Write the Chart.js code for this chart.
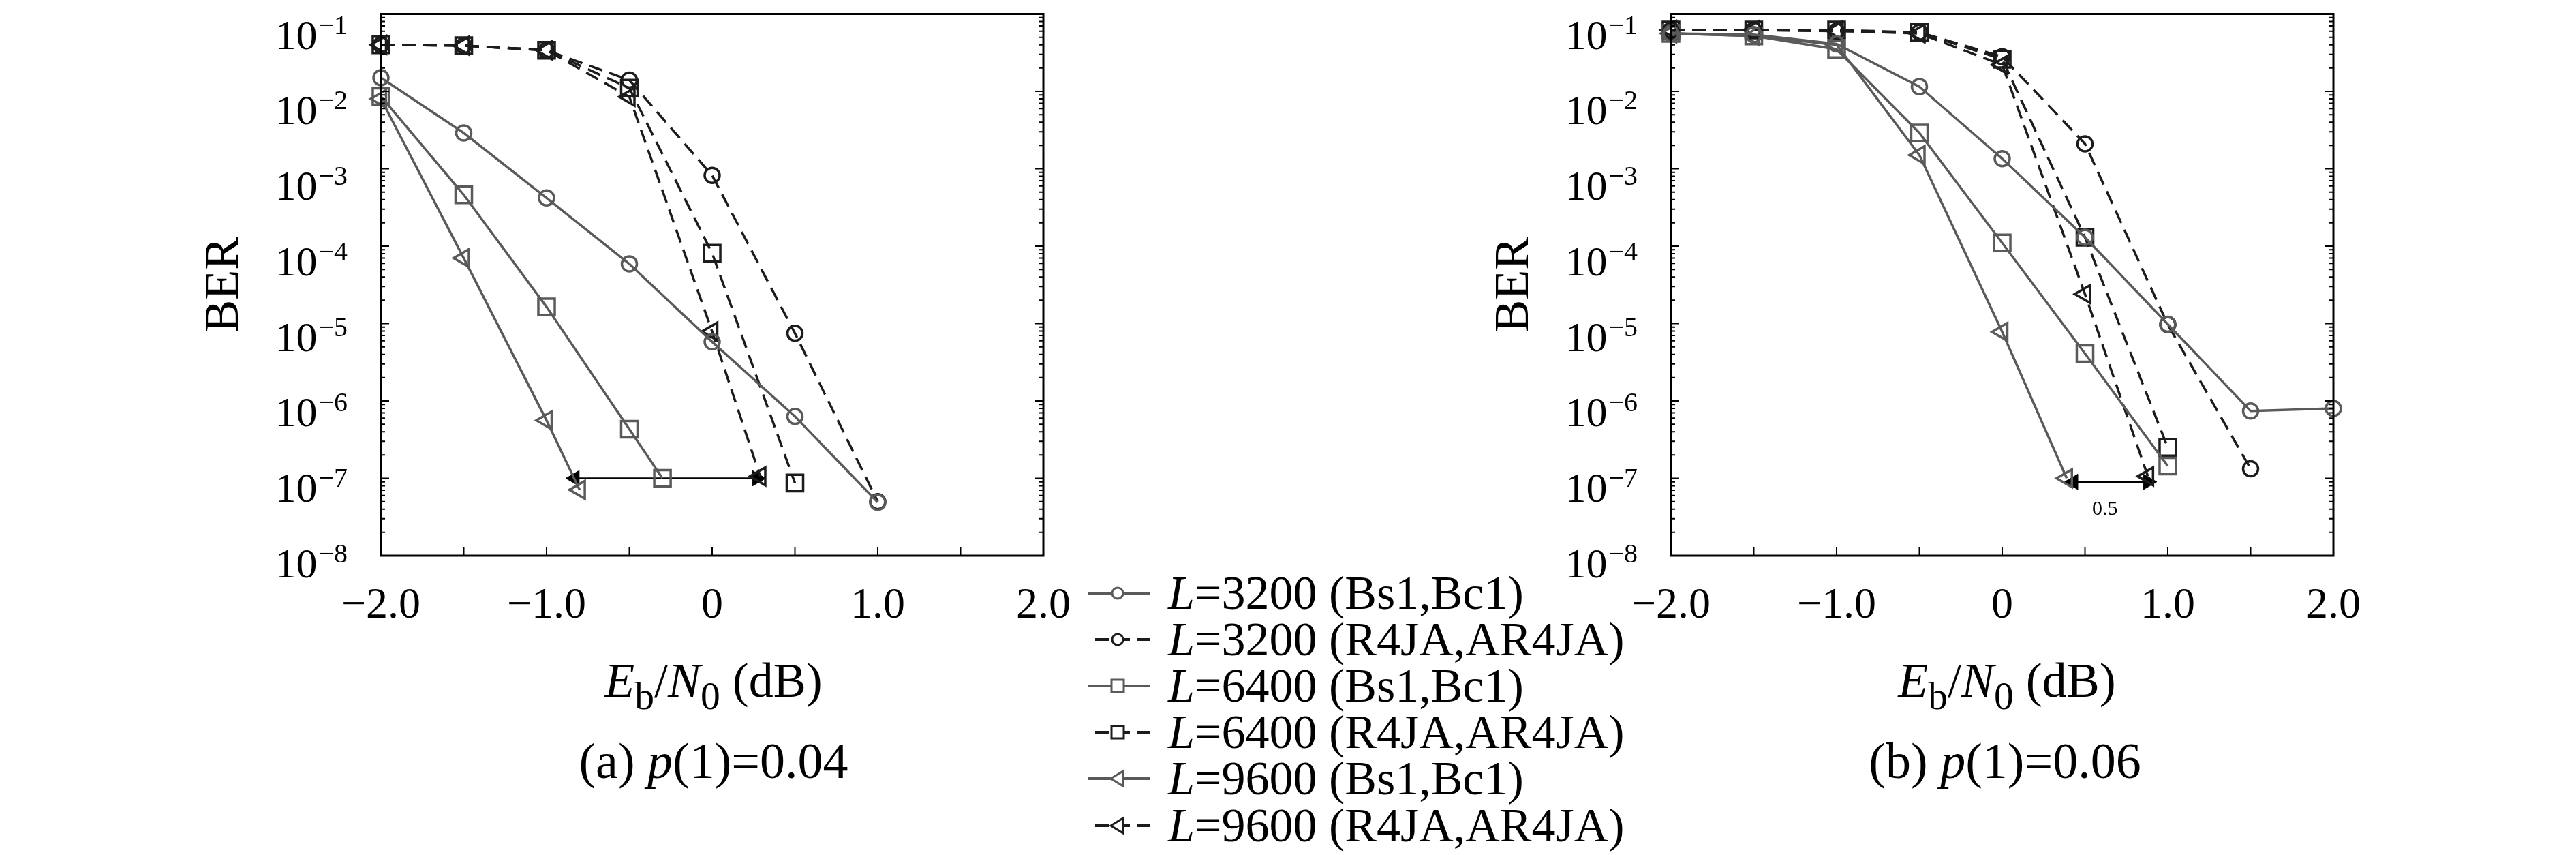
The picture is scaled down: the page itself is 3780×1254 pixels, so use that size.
<!DOCTYPE html>
<html>
<head>
<meta charset="utf-8">
<script src="https://cdn.jsdelivr.net/npm/chart.js@4.4.1/dist/chart.umd.min.js"></script>
<style>
  html, body { margin: 0; padding: 0; background: #fff; }
  body { width: 3780px; height: 1254px; position: relative; overflow: hidden;
         font-family: "Liberation Serif", serif; color: #000; }
  canvas { position: absolute; top: 0; }
  .lbl { position: absolute; transform: translate(-50%, -50%); white-space: nowrap; }
  .axt { font-size: 72px; }
  .sub { font-size: 74px; }
  sub { font-size: 0.8em; vertical-align: -0.32em; line-height: 0; }
  .leg { position: absolute; left: 1596px; height: 70px; display: flex; align-items: center;
         font-size: 70px; white-space: nowrap; }
  .leg svg { width: 92px; height: 30px; margin-right: 26px; flex: none; }
</style>
</head>
<body>
<canvas id="chartA" width="1400" height="960" style="left:200px"></canvas>
<canvas id="chartB" width="1400" height="960" style="left:2093px"></canvas>

<div class="lbl axt" style="left:1047px; top:998px"><i>E</i><sub>b</sub>/<i>N</i><sub>0</sub> (dB)</div>
<div class="lbl sub" style="left:1047px; top:1116px">(a) <i>p</i>(1)=0.04</div>
<div class="lbl axt" style="left:2945px; top:998px"><i>E</i><sub>b</sub>/<i>N</i><sub>0</sub> (dB)</div>
<div class="lbl sub" style="left:2942px; top:1116px">(b) <i>p</i>(1)=0.06</div>

<div id="legend"></div>

<script>
// E_b/N_0 (dB) for each curve, BER
// panel (a) p(1)=0.04
var a_x3200bs = [-2.0, -1.5, -1.0, -0.5, 0, 0.5, 1.0];
var a_y3200bs = [1.5e-2, 2.9e-3, 4.2e-4, 5.9e-5, 5.8e-6, 6.3e-7, 4.9e-8];
var a_x3200r4 = [-2.0, -1.5, -1.0, -0.5, 0, 0.5, 1.0];
var a_y3200r4 = [4.0e-2, 3.9e-2, 3.4e-2, 1.4e-2, 8.2e-4, 7.5e-6, 5.0e-8];
var a_x6400bs = [-2.0, -1.5, -1.0, -0.5, -0.3];
var a_y6400bs = [8.6e-3, 4.6e-4, 1.64e-5, 4.3e-7, 1.0e-7];
var a_x6400r4 = [-2.0, -1.5, -1.0, -0.5, 0, 0.5];
var a_y6400r4 = [4.0e-2, 3.9e-2, 3.4e-2, 1.1e-2, 8.1e-5, 8.7e-8];
var a_x9600bs = [-2.0, -1.5, -1.0, -0.8];
var a_y9600bs = [8.0e-3, 7.0e-5, 5.6e-7, 7.1e-8];
var a_x9600r4 = [-2.0, -1.5, -1.0, -0.5, 0, 0.29];
var a_y9600r4 = [4.0e-2, 3.9e-2, 3.4e-2, 8.5e-3, 7.9e-6, 1.06e-7];
var a_arrowX = [-0.83, 0.27];
var a_arrowY = [1.0e-7, 1.0e-7];

// panel (b) p(1)=0.06
var b_x3200bs = [-2.0, -1.5, -1.0, -0.5, 0, 0.5, 1.0, 1.5, 2.0];
var b_y3200bs = [5.6e-2, 5.4e-2, 4.1e-2, 1.15e-2, 1.35e-3, 1.3e-4, 9.8e-6, 7.4e-7, 8.0e-7];
var b_x3200r4 = [-2.0, -1.5, -1.0, -0.5, 0, 0.5, 1.0, 1.5];
var b_y3200r4 = [6.2e-2, 6.2e-2, 6.0e-2, 5.8e-2, 2.8e-2, 2.1e-3, 9.7e-6, 1.33e-7];
var b_x6400bs = [-2.0, -1.5, -1.0, -0.5, 0, 0.5, 1.0];
var b_y6400bs = [5.6e-2, 5.2e-2, 3.5e-2, 2.9e-3, 1.1e-4, 4.1e-6, 1.44e-7];
var b_x6400r4 = [-2.0, -1.5, -1.0, -0.5, 0, 0.5, 1.0];
var b_y6400r4 = [6.2e-2, 6.2e-2, 6.2e-2, 5.8e-2, 2.6e-2, 1.3e-4, 2.5e-7];
var b_x9600bs = [-2.0, -1.5, -1.0, -0.5, 0, 0.39];
var b_y9600bs = [5.6e-2, 5.2e-2, 4.0e-2, 1.5e-3, 7.8e-6, 1.0e-7];
var b_x9600r4 = [-2.0, -1.5, -1.0, -0.5, 0, 0.5, 0.88];
var b_y9600r4 = [6.2e-2, 6.2e-2, 6.1e-2, 5.6e-2, 2.2e-2, 2.4e-5, 1.06e-7];
var b_arrowX = [0.43, 0.88];
var b_arrowY = [9.0e-8, 9.0e-8];
var b_noteText = "0.5";
var b_noteX = 0.62;
var b_noteY = 4.0e-8;

var seriesNames = [
	"=3200 (Bs1,Bc1)", "=3200 (R4JA,AR4JA)",
	"=6400 (Bs1,Bc1)", "=6400 (R4JA,AR4JA)",
	"=9600 (Bs1,Bc1)", "=9600 (R4JA,AR4JA)"
];
var xTickValues = [-2.0, -1.5, -1.0, -0.5, 0, 0.5, 1.0, 1.5, 2.0];
var yDecades = [1e-1, 1e-2, 1e-3, 1e-4, 1e-5, 1e-6, 1e-7, 1e-8];

var SOLID = "#5a5a5a";
var DASHED = "#1c1c1c";
var FONT = '"Liberation Serif", serif';

function pts(xs, ys) {
	return xs.map(function (x, i) { return { x: x, y: ys[i] }; });
}

function series(xs, ys, dashed, shape) {
	var c = dashed ? DASHED : SOLID;
	return {
		data: pts(xs, ys),
		borderColor: c,
		borderWidth: 3.5,
		borderDash: dashed ? [20, 11] : [],
		pointStyle: shape,
		pointRotation: shape === "triangle" ? -90 : 0,
		pointRadius: shape === "rect" ? 17 : shape === "triangle" ? 15 : 11,
		pointBorderWidth: 3.5,
		pointBorderColor: c,
		pointBackgroundColor: "rgba(0,0,0,0)",
		tension: 0,
		clip: false
	};
}

function arrow(xs, ys) {
	return {
		data: pts(xs, ys),
		borderColor: "#000",
		borderWidth: 2.5,
		pointStyle: "triangle",
		pointRotation: [-90, 90],
		pointRadius: 13,
		pointBorderWidth: 1,
		pointBorderColor: "#000",
		pointBackgroundColor: "#000",
		clip: false
	};
}

// box round the plot with inward major/minor ticks
var frameTicks = {
	id: "frameTicks",
	afterDatasetsDraw: function (chart) {
		var ctx = chart.ctx, a = chart.chartArea;
		var x = chart.scales.x, y = chart.scales.y;
		ctx.save();
		ctx.strokeStyle = "#000";
		ctx.lineWidth = 3;
		ctx.strokeRect(a.left, a.top, a.right - a.left, a.bottom - a.top);
		ctx.lineWidth = 2;
		ctx.beginPath();
		xTickValues.forEach(function (v) {
			var px = x.getPixelForValue(v);
			ctx.moveTo(px, a.bottom);
			ctx.lineTo(px, a.bottom - 13);
		});
		yDecades.forEach(function (d) {
			for (var m = 1; m <= 9; m++) {
				var v = m * d;
				if (v > 0.1 * 1.0001) break;
				var py = y.getPixelForValue(v);
				var len = m === 1 ? 12 : 6;
				ctx.moveTo(a.left, py); ctx.lineTo(a.left + len, py);
				ctx.moveTo(a.right, py); ctx.lineTo(a.right - len, py);
			}
		});
		ctx.stroke();
		ctx.restore();
	}
};

// y tick labels as 10 with a raised exponent
var powerLabels = {
	id: "powerLabels",
	afterDraw: function (chart) {
		var ctx = chart.ctx, a = chart.chartArea, y = chart.scales.y;
		ctx.save();
		ctx.fillStyle = "#000";
		ctx.textAlign = "left";
		ctx.textBaseline = "alphabetic";
		yDecades.forEach(function (v, k) {
			var mid = y.getPixelForValue(v) + 30 - 19 * k / 7;
			var exp = "\u2212" + String(-Math.round(Math.log10(v)));
			ctx.font = "62px " + FONT;
			var w10 = ctx.measureText("10").width;
			ctx.font = "40px " + FONT;
			var we = ctx.measureText(exp).width;
			var left = a.left - 49 - w10 - we - 2;
			ctx.font = "62px " + FONT;
			ctx.fillText("10", left, mid + 21);
			ctx.font = "40px " + FONT;
			ctx.fillText(exp, left + w10 + 2, mid - 1);
		});
		ctx.restore();
	}
};

function makeOptions() {
	return {
		responsive: false,
		animation: false,
		devicePixelRatio: 1,
		layout: { padding: { left: 0, top: 8, right: 69, bottom: 0 } },
		plugins: { legend: { display: false }, tooltip: { enabled: false } },
		scales: {
			x: {
				type: "linear",
				min: -2, max: 2,
				afterBuildTicks: function (s) {
					s.ticks = xTickValues.map(function (v) { return { value: v }; });
				},
				afterFit: function (s) { s.height = 145; s.paddingLeft = 0; s.paddingRight = 0; },
				grid: { display: false, drawTicks: false },
				border: { display: false },
				ticks: {
					padding: 36,
					maxRotation: 0,
					autoSkip: false,
					color: "#000",
					font: { family: FONT, size: 64 },
					callback: function (v) {
						if (Math.abs(v - Math.round(v)) > 1e-9) return "";
						if (v === 0) return "0";
						return (v < 0 ? "\u2212" : "") + Math.abs(v).toFixed(1);
					}
				}
			},
			y: {
				type: "logarithmic",
				min: 1e-8, max: 1e-1,
				afterBuildTicks: function (s) {
					s.ticks = yDecades.map(function (v) { return { value: v }; });
				},
				afterFit: function (s) { s.width = 359; s.paddingTop = 0; s.paddingBottom = 0; },
				grid: { display: false, drawTicks: false },
				border: { display: false },
				title: {
					display: true,
					text: "BER",
					color: "#000",
					font: { family: FONT, size: 72 },
					padding: { top: 87, bottom: 0 }
				},
				ticks: { display: false }
			}
		}
	};
}

new Chart(document.getElementById("chartA").getContext("2d"), {
	type: "line",
	data: {
		datasets: [
			series(a_x3200bs, a_y3200bs, false, "circle"),
			series(a_x3200r4, a_y3200r4, true, "circle"),
			series(a_x6400bs, a_y6400bs, false, "rect"),
			series(a_x6400r4, a_y6400r4, true, "rect"),
			series(a_x9600bs, a_y9600bs, false, "triangle"),
			series(a_x9600r4, a_y9600r4, true, "triangle"),
			arrow(a_arrowX, a_arrowY)
		]
	},
	options: makeOptions(),
	plugins: [frameTicks, powerLabels]
});

var noteLabel = {
	id: "noteLabel",
	afterDatasetsDraw: function (chart) {
		var ctx = chart.ctx;
		ctx.save();
		ctx.fillStyle = "#000";
		ctx.font = "30px " + FONT;
		ctx.textAlign = "center";
		ctx.textBaseline = "middle";
		ctx.fillText(b_noteText, chart.scales.x.getPixelForValue(b_noteX), chart.scales.y.getPixelForValue(b_noteY));
		ctx.restore();
	}
};

new Chart(document.getElementById("chartB").getContext("2d"), {
	type: "line",
	data: {
		datasets: [
			series(b_x3200bs, b_y3200bs, false, "circle"),
			series(b_x3200r4, b_y3200r4, true, "circle"),
			series(b_x6400bs, b_y6400bs, false, "rect"),
			series(b_x6400r4, b_y6400r4, true, "rect"),
			series(b_x9600bs, b_y9600bs, false, "triangle"),
			series(b_x9600r4, b_y9600r4, true, "triangle"),
			arrow(b_arrowX, b_arrowY)
		]
	},
	options: makeOptions(),
	plugins: [frameTicks, powerLabels, noteLabel]
});

// legend between the two panels
var shapes = ["circle", "circle", "rect", "rect", "triangle", "triangle"];
var legendTops = [870, 938, 1006, 1074, 1142, 1211];
var legendHtml = "";
seriesNames.forEach(function (name, i) {
	var dashed = i % 2 === 1;
	var c = dashed ? DASHED : SOLID;
	var line = dashed
		? '<line x1="11" y1="15" x2="92" y2="15" stroke="' + c + '" stroke-width="4" stroke-dasharray="20 11"/>'
		: '<line x1="0" y1="15" x2="92" y2="15" stroke="' + c + '" stroke-width="4"/>';
	var mark;
	if (shapes[i] === "circle") {
		mark = '<circle cx="44" cy="15" r="8" fill="#fff" stroke="' + c + '" stroke-width="3"/>';
	} else if (shapes[i] === "rect") {
		mark = '<rect x="35" y="6" width="18" height="18" fill="#fff" stroke="' + c + '" stroke-width="3"/>';
	} else {
		mark = '<polygon points="34,15 52,4 52,26" fill="#fff" stroke="' + c + '" stroke-width="3"/>';
	}
	legendHtml += '<div class="leg" style="top:' + (legendTops[i] - 35) + 'px">' +
		'<svg viewBox="0 0 92 30">' + line + mark + '</svg>' +
		'<span><i>L</i>' + name + '</span></div>';
});
document.getElementById("legend").innerHTML = legendHtml;
</script>
</body>
</html>
